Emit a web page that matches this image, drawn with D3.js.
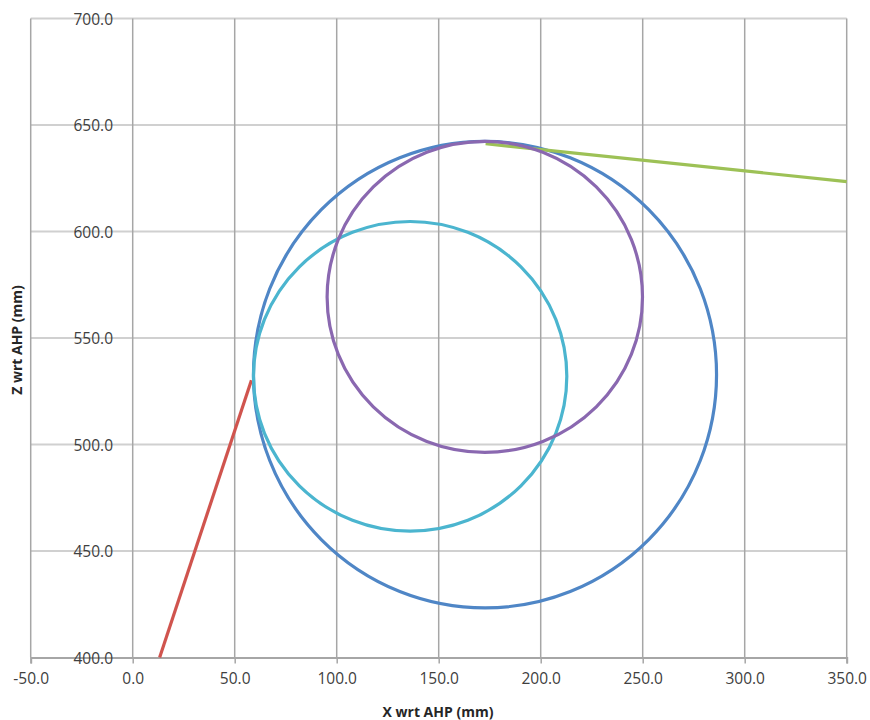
<!DOCTYPE html>
<html>
<head>
<meta charset="utf-8">
<script src="https://cdn.jsdelivr.net/npm/d3@7"></script>
<style>
  html, body { margin: 0; padding: 0; background: #fff; }
  svg { display: block; }
  text { font-family: "Open Sans", "DejaVu Sans", sans-serif; }
</style>
</head>
<body>
<svg id="chart" width="870" height="720"></svg>
<script>
// Axis ticks
const xTicks = [-50, 0, 50, 100, 150, 200, 250, 300, 350];
const zTicks = [400, 450, 500, 550, 600, 650, 700];

// Circular paths: centre and radius along each axis (mm)
const circleNames   = ["outer", "lower", "upper"];
const circleCx      = [172.7, 136.0, 172.6];
const circleCz      = [532.8, 532.0, 569.3];
const circleRx      = [113.5, 76.8, 77.3];
const circleRz      = [109.5, 72.7, 73.0];
const circleColors  = ["#4F86C6", "#4BB5CF", "#8A68B0"];

// Entry line (red) and exit line (green)
const entryX = [13.2, 58.2];
const entryZ = [400.0, 530.2];
const exitX  = [173.0, 350.0];
const exitZ  = [641.2, 623.4];

const fmt = d => d3.format(".1f")(d).replace("\u2212", "-");

const svg = d3.select("#chart");
const x = d3.scaleLinear().domain([-50, 350]).range([30.7, 846.7]);
const z = d3.scaleLinear().domain([400, 700]).range([657.5, 18.5]);

// Horizontal gridlines (light)
svg.append("g").selectAll("line")
  .data(zTicks.filter(d => d !== 400))
  .join("line")
  .attr("x1", x(-50)).attr("x2", x(350))
  .attr("y1", d => z(d)).attr("y2", d => z(d))
  .attr("stroke", "#d0d0d0").attr("stroke-width", 2.2);

// Vertical gridlines (darker)
svg.append("g").selectAll("line")
  .data(xTicks)
  .join("line")
  .attr("x1", d => x(d)).attr("x2", d => x(d))
  .attr("y1", z(700)).attr("y2", z(400))
  .attr("stroke", "#a6a6a6").attr("stroke-width", 1.5);

// Bottom axis with outward ticks
const xAxis = d3.axisBottom(x).tickValues(xTicks).tickSize(6).tickFormat(fmt);
const gx = svg.append("g").attr("transform", `translate(0,${z(400)})`).call(xAxis);
gx.select(".domain").attr("stroke", "#a6a6a6").attr("stroke-width", 2);
gx.selectAll(".tick line").attr("stroke", "#a6a6a6").attr("stroke-width", 1.5);
gx.selectAll(".tick text")
  .attr("y", 26).attr("dy", 0)
  .attr("fill", "#404040")
  .style("font-size", "15.5px")
  .style("font-family", "'Open Sans', sans-serif");

// Vertical axis labels
svg.append("g").selectAll("text")
  .data(zTicks)
  .join("text")
  .attr("x", 113)
  .attr("y", d => z(d) + 2)
  .attr("dominant-baseline", "middle")
  .attr("text-anchor", "end")
  .attr("fill", "#404040")
  .style("font-size", "15.5px")
  .text(fmt);

// Data series
const line = d3.line().x(d => x(d[0])).y(d => z(d[1]));
const plot = svg.append("g").attr("fill", "none").attr("stroke-width", 3.2);

// Outer circle
plot.append("ellipse")
  .attr("cx", x(circleCx[0])).attr("cy", z(circleCz[0]))
  .attr("rx", x(circleCx[0] + circleRx[0]) - x(circleCx[0]))
  .attr("ry", z(circleCz[0]) - z(circleCz[0] + circleRz[0]))
  .attr("stroke", circleColors[0]);

plot.append("path")
  .attr("d", line(d3.zip(entryX, entryZ)))
  .attr("stroke", "#D0544E");

plot.append("path")
  .attr("d", line(d3.zip(exitX, exitZ)))
  .attr("stroke", "#9DC156");

plot.selectAll("ellipse.inner")
  .data(circleNames.slice(1).map((n, j) => j + 1))
  .join("ellipse")
  .attr("class", "inner")
  .attr("cx", i => x(circleCx[i])).attr("cy", i => z(circleCz[i]))
  .attr("rx", i => x(circleCx[i] + circleRx[i]) - x(circleCx[i]))
  .attr("ry", i => z(circleCz[i]) - z(circleCz[i] + circleRz[i]))
  .attr("stroke", i => circleColors[i]);

// Axis titles
svg.append("text")
  .attr("x", 438).attr("y", 717)
  .attr("text-anchor", "middle")
  .attr("fill", "#262626")
  .style("font-size", "14px").style("font-weight", "bold")
  .text("X wrt AHP (mm)");

svg.append("text")
  .attr("transform", `translate(22,${340}) rotate(-90)`)
  .attr("text-anchor", "middle")
  .attr("fill", "#262626")
  .style("font-size", "14px").style("font-weight", "bold")
  .text("Z wrt AHP (mm)");
</script>
</body>
</html>
